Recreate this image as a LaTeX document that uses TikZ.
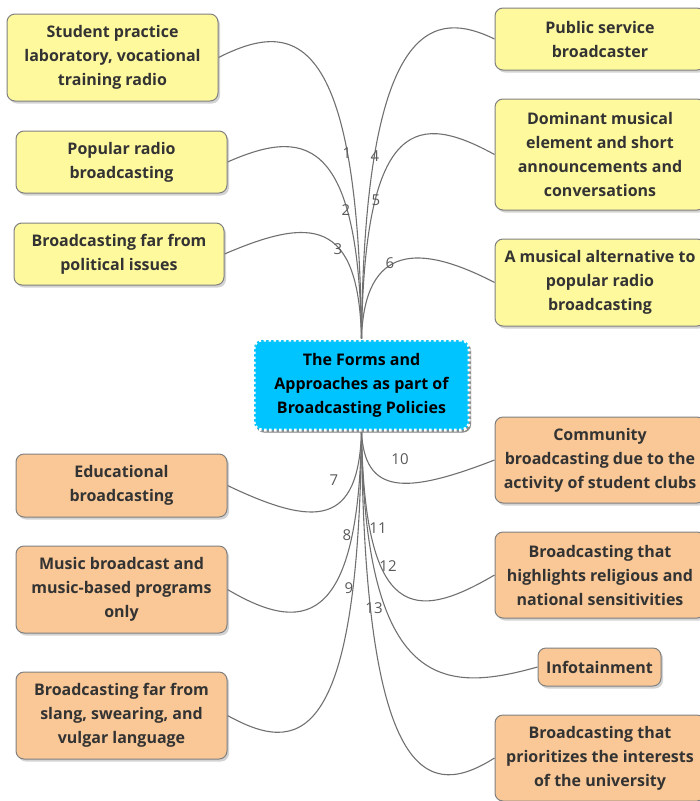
\documentclass[tikz,border=0pt]{standalone}
\usepackage{fontspec}
\setmainfont{Open Sans}
\usepackage{xcolor}
\usetikzlibrary{shadows,backgrounds}
\definecolor{mmyellow}{HTML}{FFF99E}
\definecolor{mmorange}{HTML}{F9C896}
\definecolor{mmcyan}{HTML}{00C4FF}
\definecolor{mmtext}{HTML}{333333}
\definecolor{mmedge}{HTML}{707070}
\tikzset{
  topicnode/.style={draw=black!50,line width=1pt,rounded corners=8pt,text=mmtext,
    font=\bfseries\fontsize{16}{24}\selectfont,align=center,inner sep=2pt,
    drop shadow={shadow xshift=2pt,shadow yshift=-2.5pt,opacity=0.35}},
  ylnode/.style={topicnode,fill=mmyellow},
  ornode/.style={topicnode,fill=mmorange},
  rootnode/.style={topicnode,fill=mmcyan,draw=white,line width=3pt,
    dash pattern=on 2.5pt off 2.5pt,text=black,
    drop shadow={shadow xshift=2pt,shadow yshift=-2.5pt,opacity=0.85}},
  linkedge/.style={draw=mmedge,line width=1.1pt},
  numlabel/.style={text=black!65,font=\fontsize{15}{15}\selectfont,inner sep=0pt},
}

\begin{document}
\begin{tikzpicture}[x=1pt,y=-1pt]
  \useasboundingbox (0,0) rectangle (700,801);
  % central topic
  \node[rootnode,minimum width=215,minimum height=90] (ctr) at (361.5,385)
    {The Forms and\\Approaches as part of\\Broadcasting Policies};
  % upper branches
  \node[ylnode,minimum width=211,minimum height=87] (b1) at (112.5,57.5)
    {Student practice\\laboratory, vocational\\training radio};
  \node[ylnode,minimum width=211,minimum height=62] (b2) at (121.5,162)
    {Popular radio\\broadcasting};
  \node[ylnode,minimum width=210,minimum height=62] (b3) at (119,254)
    {Broadcasting far from\\political issues};
  \node[ylnode,minimum width=210,minimum height=62] (b4) at (600,39)
    {Public service\\broadcaster};
  \node[ylnode,minimum width=210,minimum height=111] (b5) at (600,154.5)
    {Dominant musical\\element and short\\announcements and\\conversations};
  \node[ylnode,minimum width=210,minimum height=87] (b6) at (600,282.5)
    {A musical alternative to\\popular radio\\broadcasting};
  % lower branches
  \node[ornode,minimum width=211,minimum height=63] (b7) at (121.5,485.5)
    {Educational\\broadcasting};
  \node[ornode,minimum width=211,minimum height=87] (b8) at (121.5,589.5)
    {Music broadcast and\\music-based programs\\only};
  \node[ornode,minimum width=211,minimum height=87] (b9) at (121.5,715.5)
    {Broadcasting far from\\slang, swearing, and\\vulgar language};
  \node[ornode,minimum width=210,minimum height=86] (b10) at (600,460)
    {Community\\broadcasting due to the\\activity of student clubs};
  \node[ornode,minimum width=210,minimum height=86] (b11) at (600,575)
    {Broadcasting that\\highlights religious and\\national sensitivities};
  \node[ornode,minimum width=123,minimum height=38] (b12) at (599.5,667)
    {Infotainment};
  \node[ornode,minimum width=210,minimum height=86] (b13) at (600,758)
    {Broadcasting that\\prioritizes the interests\\of the university};

  \begin{scope}[on background layer]
    \draw[linkedge] (ctr.north) .. controls +(-3,-317) and +(72,-36) .. (b1.east);
    \draw[linkedge] (ctr.north) .. controls +(-3,-208) and +(73,-32) .. (b2.east);
    \draw[linkedge] (ctr.north) .. controls +(-3,-121) and +(86,-37) .. (b3.east);
    \draw[linkedge] (ctr.north) .. controls +(3,-327) and +(-58,-28) .. (b4.west);
    \draw[linkedge] (ctr.north) .. controls +(3,-225) and +(-75,-41) .. (b5.west);
    \draw[linkedge] (ctr.north) .. controls +(3,-95) and +(-75,-39) .. (b6.west);
    \draw[linkedge] (ctr.south) .. controls +(-3,95) and +(88,42) .. (b7.east);
    \draw[linkedge] (ctr.south) .. controls +(-3,200) and +(73,43) .. (b8.east);
    \draw[linkedge] (ctr.south) .. controls +(-3,321) and +(69,38) .. (b9.east);
    \draw[linkedge] (ctr.south) .. controls +(3,63) and +(-90,35) .. (b10.west);
    \draw[linkedge] (ctr.south) .. controls +(3,190) and +(-80,47) .. (b11.west);
    \draw[linkedge] (ctr.south) .. controls +(3,261) and +(-93,26) .. (b12.west);
    \draw[linkedge] (ctr.south) .. controls +(3,365) and +(-62,39) .. (b13.west);
  \end{scope}

  % edge numbers
  \node[numlabel] (l1) at (347,153) {1};
  \node[numlabel] (l2) at (346,210) {2};
  \node[numlabel] (l3) at (338,249) {3};
  \node[numlabel] (l4) at (375,156) {4};
  \node[numlabel] (l5) at (376,200) {5};
  \node[numlabel] (l6) at (390,263) {6};
  \node[numlabel] (l7) at (334,480) {7};
  \node[numlabel] (l8) at (347,535) {8};
  \node[numlabel] (l9) at (349,588) {9};
  \node[numlabel] (l10) at (400,459) {10};
  \node[numlabel] (l11) at (378,528) {11};
  \node[numlabel] (l12) at (388,566) {12};
  \node[numlabel] (l13) at (374,608) {13};
\end{tikzpicture}
\end{document}
